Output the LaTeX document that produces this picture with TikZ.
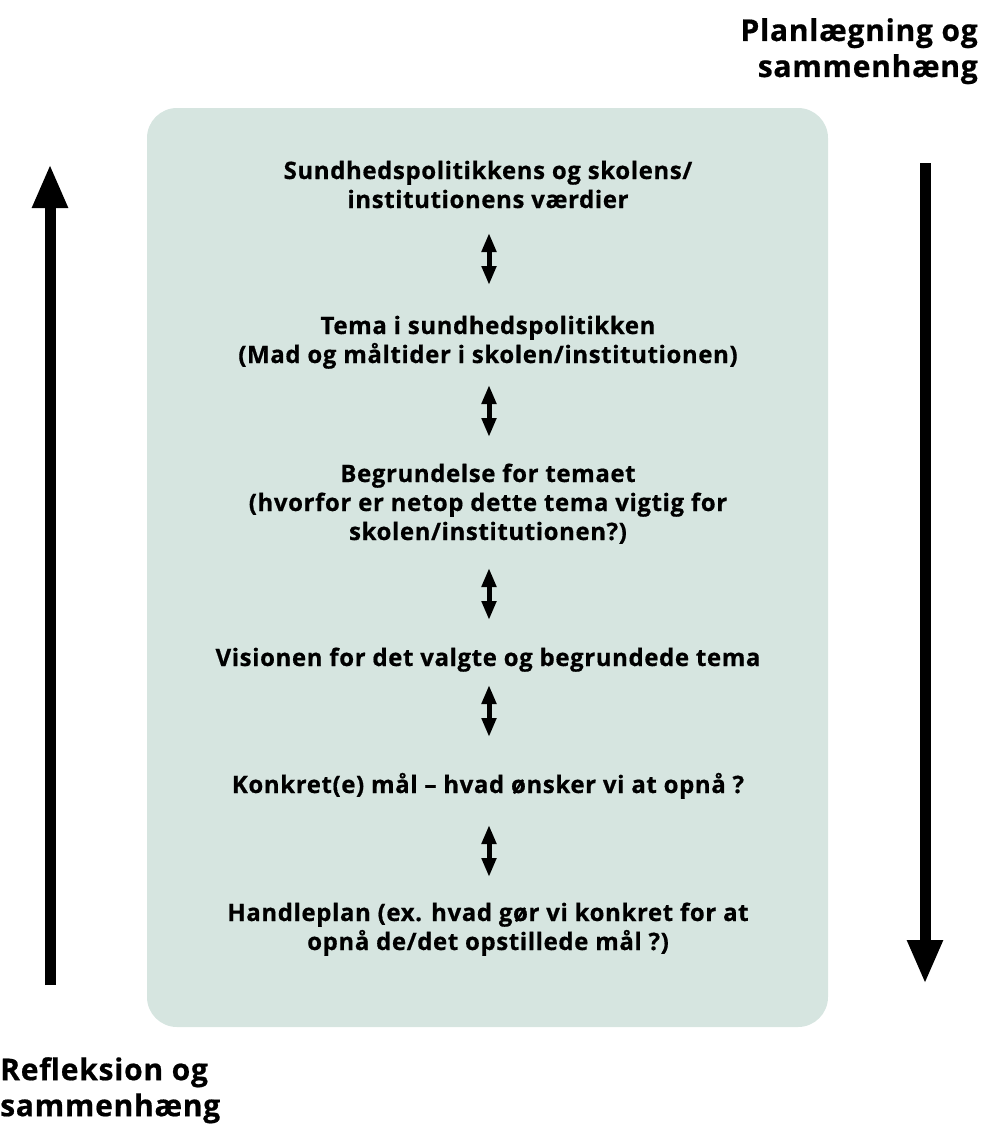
\documentclass[tikz,border=0pt]{standalone}
\usepackage{fontspec}
\setmainfont{Open Sans}[LetterSpace=2.5, BoldFeatures={FakeBold=0.6}]
\usetikzlibrary{arrows.meta}
\definecolor{boxgreen}{RGB}{214,229,224}
\tikzset{
  steptext/.style={font=\bfseries\fontsize{24}{29}\selectfont, align=center, inner sep=0pt, anchor=base},
  sidetext/.style={font=\bfseries\fontsize{30}{36}\selectfont, inner sep=0pt, anchor=base},
  bigarrow/.style={line width=11pt, -{Triangle[width=33pt,length=44pt]}},
  smallarrow/.style={line width=5pt, {Triangle[width=14pt,length=19pt]}-{Triangle[width=14pt,length=19pt]}},
}
\begin{document}
\begin{tikzpicture}[x=1pt,y=1pt,yscale=-1,xscale=1]
  \path[use as bounding box] (0,0) rectangle (995,1124);

  %Shape: Rounded Rect
  \fill[boxgreen, rounded corners=30pt] (147,108) rectangle (828,1027);

  % Text Node
  \node[steptext] (values) at (488,208) {Sundhedspolitikkens og skolens/\\institutionens værdier};
  % Text Node
  \node[steptext] (theme) at (488,363) {Tema i sundhedspolitikken\\(Mad og måltider i skolen/institutionen)};
  % Text Node
  \node[steptext] (reason) at (488,540) {Begrundelse for temaet\\(hvorfor er netop dette tema vigtig for\\skolen/institutionen?)};
  % Text Node
  \node[steptext] (vision) at (488,666) {Visionen for det valgte og begrundede tema};
  % Text Node
  \node[steptext] (goals) at (488,793) {Konkret(e) mål – hvad ønsker vi at opnå ?};
  % Text Node
  \node[steptext] (plan) at (488,950) {Handleplan (ex. hvad gør vi konkret for at\\opnå de/det opstillede mål ?)};

  % Side labels
  \node[sidetext, align=right, anchor=north east] (planning) at (978,18) {Planlægning og\\sammenhæng};
  \node[sidetext, align=left, anchor=north west] (reflection) at (0,1057) {Refleksion og\\sammenhæng};

  % Arrow ends
  \coordinate (a1t) at (489,233);  \coordinate (a1b) at (489,285);
  \coordinate (a2t) at (489,385);  \coordinate (a2b) at (489,437);
  \coordinate (a3t) at (489,568);  \coordinate (a3b) at (489,620);
  \coordinate (a4t) at (489,685);  \coordinate (a4b) at (489,737);
  \coordinate (a5t) at (489,825);  \coordinate (a5b) at (489,877);
  \coordinate (up0) at (50,985);   \coordinate (up1) at (50,164);
  \coordinate (dn0) at (925,163);  \coordinate (dn1) at (925,984);

  %Straight Lines
  \foreach \i in {1,...,5}
    \draw[smallarrow] (a\i t) -- (a\i b);
  \draw[bigarrow] (up0) -- (up1);
  \draw[bigarrow] (dn0) -- (dn1);
\end{tikzpicture}
\end{document}
